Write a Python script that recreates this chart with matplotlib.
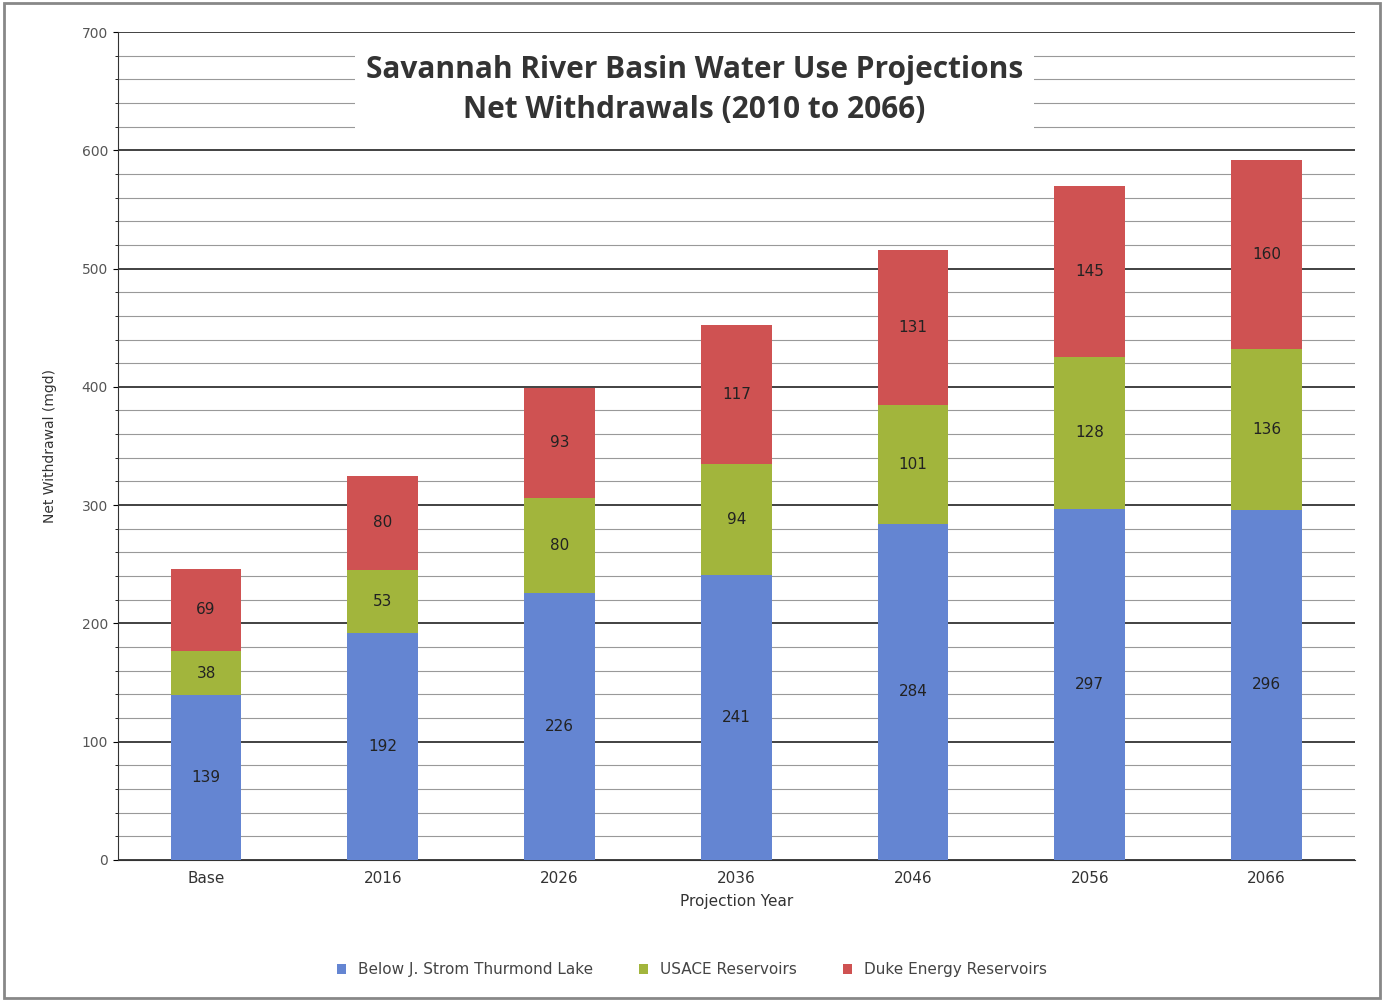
import numpy as np
import matplotlib.pyplot as plt

# projection years and net withdrawals (mgd) by source
years = ["Base", "2016", "2026", "2036", "2046", "2056", "2066"]
below_thurmond = [139, 192, 226, 241, 284, 297, 296]
usace = [38, 53, 80, 94, 101, 128, 136]
duke_energy = [69, 80, 93, 117, 131, 145, 160]
series_names = ["Below J. Strom Thurmond Lake", "USACE Reservoirs", "Duke Energy Reservoirs"]

colors = ["#6485d2", "#a2b53c", "#cf5252"]

fig = plt.figure(figsize=(13.84, 10.01), dpi=100)
ax = fig.add_axes([0.085, 0.141, 0.894, 0.827])

x = np.arange(len(years))
bottom = np.zeros(len(years))
for vals, name, c in zip([below_thurmond, usace, duke_energy], series_names, colors):
    ax.bar(x, vals, 0.4, bottom=bottom, color=c, label=name, zorder=3)
    for xi, b, v in zip(x, bottom, vals):
        # label sits mid-segment
        ax.text(xi, b + v / 2, str(v), ha="center", va="center", fontsize=11,
                color="#222222", zorder=4)
    bottom += np.array(vals)

ax.set_xlim(-0.5, len(years) - 0.5)
ax.set_ylim(0, 700)
ax.set_yticks(np.arange(0, 701, 100))
ax.set_yticks(np.arange(0, 701, 20), minor=True)
ax.grid(axis="y", which="major", color="#333333", linewidth=1.3, zorder=0)
ax.grid(axis="y", which="minor", color="#999999", linewidth=0.8, zorder=0)
ax.set_xticks(x)
ax.set_xticklabels(years, fontsize=11, color="#333333")
ax.tick_params(axis="y", labelsize=10, labelcolor="#555555")
ax.tick_params(axis="x", length=0, pad=8)
for s in ["top", "right"]:
    ax.spines[s].set_visible(False)
ax.spines["left"].set_color("#333333")
ax.spines["bottom"].set_color("#333333")

ax.set_xlabel("Projection Year", fontsize=11, color="#333333", labelpad=6)
ax.set_ylabel("Net Withdrawal (mgd)", fontsize=10, color="#333333", labelpad=18)

ax.text(0.466, 0.93, "Savannah River Basin Water Use Projections\nNet Withdrawals (2010 to 2066)",
        transform=ax.transAxes, ha="center", va="center", fontsize=21.5, fontweight="bold",
        color="#333333", linespacing=1.45, family="Open Sans", zorder=5,
        bbox=dict(facecolor="white", edgecolor="none", pad=8))

fig.legend(loc="lower center", bbox_to_anchor=(0.5, 0.01), ncol=3, frameon=False,
           fontsize=11, handlelength=0.6, handleheight=0.6, columnspacing=3,
           labelcolor="#444444")

fig.patches.append(plt.Rectangle((0.003, 0.003), 0.994, 0.994, transform=fig.transFigure,
                                 fill=False, edgecolor="#888888", linewidth=2))

fig.savefig("out.png", dpi=100)
